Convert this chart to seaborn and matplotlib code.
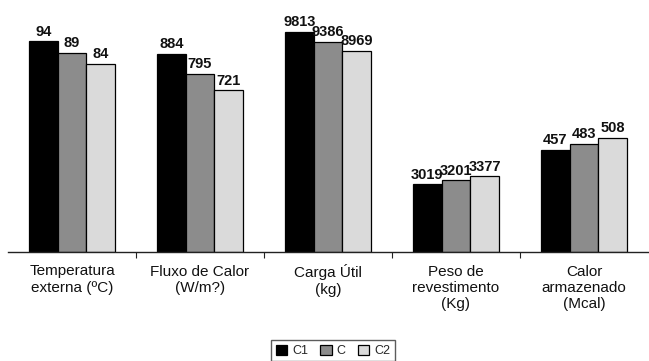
import pandas as pd
import seaborn as sns
import matplotlib.pyplot as plt
from matplotlib.ticker import FixedLocator

categories = ['Temperatura\nexterna (ºC)', 'Fluxo de Calor\n(W/m?)', 'Carga Útil\n(kg)',
              'Peso de\nrevestimento\n(Kg)', 'Calor\narmazenado\n(Mcal)']
series = ['C1', 'C', 'C2']
c1_vals = [94, 884, 9813, 3019, 457]
c_vals = [89, 795, 9386, 3201, 483]
c2_vals = [84, 721, 8969, 3377, 508]
# each group was drawn on its own scale in the original chart
scale = [1, 10, 100, 100, 10]

rows = []
for s, vals in zip(series, [c1_vals, c_vals, c2_vals]):
    for cat, v, k in zip(categories, vals, scale):
        rows.append({'cat': cat, 'serie': s, 'value': v, 'plot': v / k})
df = pd.DataFrame(rows)

sns.set_theme(style='white')
plt.rcParams['font.family'] = ['Liberation Sans', 'DejaVu Sans']

fig = plt.figure(figsize=(6.49, 3.61), dpi=100)
ax = fig.add_axes([8 / 649, 109 / 361, 640 / 649, 252 / 361])
colors = ['#000000', '#8c8c8c', '#dadada']
sns.barplot(data=df, x='cat', y='plot', hue='serie', palette=colors, width=0.67,
            edgecolor='black', linewidth=0.9, ax=ax, legend=True)

for cont, vals in zip(ax.containers, [c1_vals, c_vals, c2_vals]):
    ax.bar_label(cont, labels=[str(v) for v in vals], padding=2, fontsize=10.5,
                 fontweight='bold', color='#111111')

ax.set_ylim(0, 112.5)
ax.set_xlim(-0.5, 4.5)
ax.set_xlabel('')
ax.set_ylabel('')
ax.set_yticks([])
for sp in ['top', 'right', 'left']:
    ax.spines[sp].set_visible(False)
ax.spines['bottom'].set_color('#222222')
ax.spines['bottom'].set_linewidth(1.0)
ax.tick_params(axis='x', which='major', length=0, labelsize=11, pad=9, colors='#111111')
ax.xaxis.set_minor_locator(FixedLocator([0.5, 1.5, 2.5, 3.5]))
ax.tick_params(axis='x', which='minor', length=4, width=0.8, color='#222222', bottom=True)

leg = ax.legend(loc='upper center', bbox_to_anchor=(0.508, -0.325), ncol=3, fontsize=9,
                frameon=True, fancybox=False, edgecolor='#333333', handlelength=0.9,
                handleheight=0.9, handletextpad=0.4, columnspacing=1.0, borderpad=0.35)
leg.get_frame().set_linewidth(1.0)

plt.savefig('out.png', dpi=100)
